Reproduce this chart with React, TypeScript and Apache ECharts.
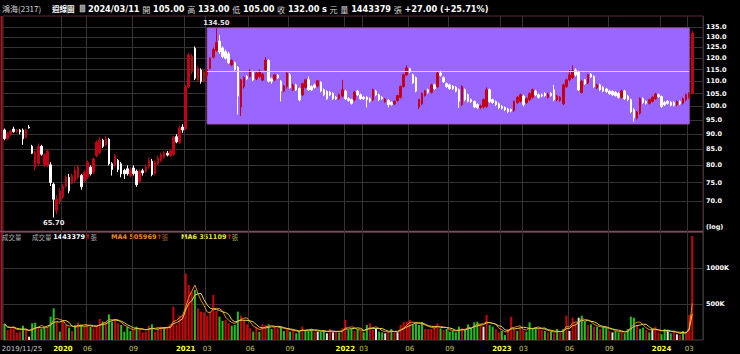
import { useEffect, useRef } from 'react';
import * as echarts from 'echarts';

// ---------------- data ----------------
const firstWeek = '2019-11-25';
const padWeeks = 3;

// [open, close, low, high] weekly
const weeklyOHLC: [number, number, number, number][] = [
  [91.5, 88.6, 88.0, 92.0], [88.6, 90.2, 88.2, 90.8], [90.2, 91.0, 89.5, 91.5], [91.8, 91.0, 90.5, 92.6], [91.0, 91.4, 90.6, 91.8],
  [91.4, 90.8, 90.0, 91.8], [91.5, 88.5, 86.5, 92.0], [89.0, 91.5, 88.5, 92.0], [92.5, 92.2, 92.0, 93.2], [86.0, 83.8, 83.5, 86.5],
  [79.5, 84.0, 78.5, 84.5], [80.5, 86.0, 80.0, 87.0], [86.0, 83.5, 83.0, 86.5], [80.2, 83.3, 79.5, 83.8], [80.0, 84.5, 79.5, 85.0],
  [80.2, 75.0, 74.0, 81.0], [74.5, 70.4, 65.7, 75.0], [67.5, 70.4, 66.5, 71.5], [69.9, 72.6, 69.0, 73.5], [71.0, 74.0, 70.5, 74.5],
  [74.0, 76.5, 73.5, 77.0], [76.5, 72.7, 72.0, 77.5], [74.8, 77.0, 74.5, 77.5], [75.5, 78.5, 75.0, 79.5], [76.5, 79.5, 76.0, 80.0],
  [77.0, 73.8, 73.0, 77.5], [75.5, 78.0, 75.0, 78.5], [76.5, 81.0, 76.0, 81.5], [79.5, 77.5, 77.0, 80.0], [78.0, 82.0, 77.5, 82.5],
  [83.0, 87.3, 82.5, 88.0], [84.0, 88.0, 83.5, 89.0], [88.0, 86.0, 85.5, 88.5], [86.5, 88.5, 86.0, 89.5], [88.3, 80.5, 80.0, 88.8],
  [80.5, 78.8, 77.0, 81.0], [80.0, 83.0, 79.5, 83.5], [81.5, 78.8, 78.0, 82.0], [80.5, 77.5, 76.5, 81.0], [78.5, 77.5, 76.0, 79.0],
  [79.0, 77.6, 77.0, 80.0], [77.0, 78.7, 76.5, 79.5], [79.2, 77.6, 77.0, 80.0], [78.3, 74.4, 73.8, 78.8], [75.3, 78.3, 74.8, 78.8],
  [78.4, 77.8, 77.0, 79.0], [78.3, 79.6, 77.8, 80.3], [79.6, 81.5, 79.0, 82.5], [81.3, 77.3, 76.8, 82.0], [77.6, 81.0, 77.0, 81.5],
  [80.5, 82.3, 80.0, 83.0], [81.5, 83.3, 81.0, 84.0], [82.5, 84.0, 82.0, 84.5], [83.8, 83.2, 82.8, 84.5], [83.0, 84.5, 82.5, 85.0],
  [83.5, 89.0, 83.0, 89.5], [89.2, 87.5, 87.0, 90.0], [87.3, 92.2, 86.8, 93.0], [92.5, 91.5, 90.5, 93.5], [92.0, 107.7, 91.5, 108.5],
  [107.7, 121.5, 107.0, 122.5], [114.0, 121.0, 113.0, 122.0], [124.5, 111.3, 110.5, 125.5], [110.5, 115.5, 110.0, 116.5], [114.8, 110.0, 109.0, 115.5],
  [110.0, 114.0, 109.5, 115.0], [112.5, 115.0, 112.0, 115.5], [115.5, 120.0, 115.0, 120.5], [120.5, 124.0, 120.0, 125.0], [123.5, 127.5, 123.0, 134.5],
  [128.0, 123.0, 122.0, 131.0], [124.8, 120.8, 120.0, 125.5], [123.0, 120.0, 119.5, 124.0], [122.0, 118.0, 117.5, 123.0], [117.0, 119.0, 116.5, 119.5],
  [118.0, 115.0, 114.5, 118.5], [116.0, 104.0, 97.0, 116.5], [99.8, 110.6, 96.5, 111.0], [107.8, 111.5, 107.0, 112.0], [112.0, 111.0, 110.5, 112.5],
  [112.0, 114.3, 111.5, 115.0], [113.8, 110.6, 110.0, 114.5], [111.0, 113.5, 110.5, 114.3], [112.0, 114.3, 111.5, 115.0], [110.5, 113.0, 110.0, 113.5],
  [114.8, 119.2, 114.0, 120.5], [119.0, 110.0, 109.5, 119.5], [111.0, 110.0, 109.0, 111.5], [110.6, 112.7, 110.0, 113.0], [112.5, 111.5, 111.0, 113.0],
  [110.0, 106.0, 101.9, 110.5], [106.0, 108.0, 105.5, 108.5], [107.8, 113.5, 107.0, 114.0], [112.7, 107.4, 107.0, 113.5], [106.5, 108.5, 106.0, 109.0],
  [108.5, 106.5, 106.0, 109.0], [107.0, 102.5, 102.0, 107.5], [104.5, 109.0, 104.0, 109.5], [107.5, 110.6, 107.0, 111.0], [110.6, 106.5, 106.0, 112.0],
  [107.8, 106.5, 106.0, 108.3], [108.5, 107.5, 107.0, 109.0], [108.0, 110.2, 107.5, 110.6], [109.5, 106.0, 105.5, 110.0], [106.5, 104.5, 104.0, 107.0],
  [105.8, 103.0, 102.5, 106.3], [105.5, 104.5, 104.0, 106.0], [105.0, 103.0, 102.5, 105.5], [103.5, 103.0, 102.5, 104.0], [103.0, 104.5, 102.5, 105.0],
  [104.0, 106.5, 103.5, 110.6], [106.0, 103.0, 102.5, 106.5], [103.0, 102.3, 101.8, 103.5], [102.6, 101.2, 100.7, 103.0], [102.6, 105.5, 102.0, 106.0],
  [106.0, 104.5, 104.0, 106.5], [104.5, 103.0, 102.5, 105.0], [103.5, 103.0, 102.5, 104.0], [103.5, 102.6, 99.6, 104.0], [103.0, 102.0, 101.5, 103.5],
  [102.6, 106.5, 102.0, 107.0], [106.0, 104.5, 104.0, 106.5], [104.5, 102.6, 102.0, 105.0], [103.5, 103.0, 102.5, 104.0], [101.9, 102.8, 101.4, 103.2],
  [102.3, 100.7, 99.6, 102.8], [101.5, 100.8, 100.3, 102.0], [101.0, 101.9, 100.5, 102.3], [102.3, 104.2, 101.8, 104.5], [103.5, 107.8, 103.0, 108.3],
  [107.8, 112.7, 107.5, 113.2], [112.7, 115.7, 112.3, 116.8], [115.3, 114.0, 113.5, 115.7], [112.7, 109.3, 109.0, 113.2], [111.5, 106.0, 105.5, 112.0],
  [99.8, 102.6, 99.0, 103.0], [101.0, 105.0, 100.5, 105.5], [104.2, 106.0, 103.8, 106.5], [106.5, 105.5, 105.0, 107.0], [105.5, 108.5, 105.0, 109.0],
  [108.5, 107.0, 106.5, 109.0], [107.8, 113.5, 107.3, 114.0], [113.5, 112.5, 112.0, 114.5], [111.5, 109.8, 109.3, 112.0], [109.0, 107.8, 107.3, 109.5],
  [108.5, 107.0, 106.5, 109.0], [108.0, 107.0, 106.5, 108.5], [107.5, 106.0, 105.5, 108.0], [106.5, 102.0, 99.5, 107.0], [100.7, 107.8, 100.2, 108.3],
  [106.5, 102.6, 102.0, 107.0], [104.5, 102.0, 101.5, 105.0], [102.6, 101.9, 101.3, 103.0], [101.9, 99.8, 99.3, 102.3], [100.7, 99.6, 99.0, 101.2],
  [99.6, 100.2, 99.0, 100.7], [99.8, 102.6, 99.3, 103.0], [100.0, 106.5, 99.5, 107.5], [106.5, 101.9, 101.3, 107.0], [102.6, 101.5, 101.0, 103.0],
  [101.9, 100.7, 100.2, 102.3], [101.0, 99.6, 99.0, 101.5], [100.0, 99.3, 98.8, 100.5], [99.6, 98.8, 98.3, 100.0], [99.0, 98.1, 97.5, 99.5],
  [98.8, 98.3, 97.8, 99.2], [98.5, 101.9, 98.0, 102.3], [101.5, 103.5, 101.0, 104.0], [102.0, 104.5, 101.5, 105.0], [104.0, 100.7, 100.0, 104.5],
  [101.5, 103.0, 101.0, 103.5], [102.6, 105.0, 102.0, 105.5], [103.5, 106.5, 103.0, 107.0], [106.0, 104.5, 104.0, 106.5], [104.5, 103.5, 103.0, 105.0],
  [104.5, 104.0, 103.5, 105.0], [105.0, 104.2, 103.8, 105.5], [103.5, 104.8, 103.0, 105.3], [105.0, 104.2, 103.8, 105.5], [106.5, 102.6, 102.0, 108.5],
  [102.6, 104.0, 102.0, 104.5], [102.3, 103.5, 101.8, 104.0], [101.0, 108.5, 100.5, 109.0], [107.8, 110.6, 107.3, 111.0], [110.6, 112.7, 110.0, 114.8],
  [111.5, 114.5, 111.0, 116.8], [114.8, 112.7, 112.0, 115.5], [114.0, 106.5, 106.0, 114.5], [105.5, 110.0, 105.0, 110.5], [110.6, 109.0, 108.5, 111.0],
  [109.3, 112.7, 108.8, 113.2], [113.0, 111.8, 111.3, 113.5], [112.0, 107.8, 107.3, 112.5], [107.3, 108.5, 106.8, 109.0], [108.5, 106.5, 106.0, 109.0],
  [107.5, 106.0, 105.5, 108.0], [106.8, 105.8, 105.3, 107.3], [106.0, 105.0, 104.5, 106.5], [105.8, 104.5, 104.0, 106.3], [105.5, 104.2, 103.8, 106.0],
  [105.0, 103.5, 103.0, 105.5], [103.5, 106.0, 103.0, 106.5], [106.0, 103.0, 102.5, 106.5], [104.0, 102.6, 102.0, 104.5], [102.6, 98.0, 97.5, 103.0],
  [98.8, 95.8, 94.4, 99.3], [95.7, 97.9, 95.2, 98.3], [97.5, 103.0, 97.0, 103.5], [103.0, 101.5, 101.0, 103.5], [101.9, 101.2, 100.7, 102.3],
  [101.2, 102.6, 100.7, 103.0], [102.0, 103.5, 101.5, 104.0], [103.0, 104.8, 102.5, 105.3], [104.5, 103.8, 103.3, 105.0], [103.8, 100.0, 99.5, 104.2],
  [101.5, 100.7, 100.2, 102.0], [102.0, 101.2, 100.7, 102.5], [101.5, 100.5, 100.0, 102.0], [101.5, 100.5, 100.0, 102.0], [100.7, 101.9, 100.2, 102.3],
  [101.9, 101.0, 100.5, 102.3], [101.2, 103.0, 100.7, 103.5], [102.6, 104.5, 102.0, 105.0], [103.5, 105.0, 103.0, 105.5], [105.0, 132.0, 105.0, 133.0],
];

// weekly volume, thousands of 張
const weeklyVolumeK: number[] = [
  222, 139, 162, 185, 102, 116, 199, 153, 46, 232,
  241, 185, 153, 171, 185, 324, 440, 255, 116, 278,
  208, 171, 125, 208, 245, 218, 185, 199, 185, 162,
  208, 292, 255, 245, 356, 255, 278, 232, 208, 116,
  185, 125, 153, 185, 162, 106, 116, 199, 218, 116,
  153, 185, 171, 185, 218, 463, 218, 338, 347, 926,
  764, 671, 694, 440, 394, 384, 338, 394, 625, 403,
  324, 264, 278, 232, 199, 208, 394, 338, 278, 218,
  162, 116, 185, 116, 218, 208, 218, 153, 185, 162,
  185, 125, 153, 116, 139, 93, 125, 185, 139, 125,
  153, 116, 116, 116, 139, 93, 153, 106, 116, 106,
  162, 278, 139, 153, 125, 153, 125, 106, 208, 232,
  139, 153, 116, 106, 93, 125, 153, 106, 106, 208,
  245, 255, 278, 208, 232, 208, 245, 153, 153, 153,
  199, 232, 162, 139, 153, 116, 125, 106, 185, 162,
  139, 218, 162, 245, 255, 218, 185, 347, 208, 185,
  153, 106, 125, 69, 153, 324, 153, 125, 185, 125,
  116, 245, 153, 171, 162, 139, 125, 106, 116, 93,
  153, 106, 153, 338, 125, 310, 232, 310, 338, 255,
  208, 218, 185, 185, 153, 185, 171, 125, 106, 125,
  106, 125, 93, 153, 324, 310, 208, 153, 171, 139,
  106, 153, 185, 106, 79, 153, 139, 93, 116, 79,
  69, 125, 116, 347, 1443.379,
];

// r = red, g = green, w = white volume bar
const volumeTone: string[] = [
  'g', 'r', 'r', 'r', 'r', 'r', 'g', 'r', 'w', 'g',
  'g', 'r', 'g', 'g', 'r', 'g', 'g', 'r', 'g', 'r',
  'r', 'g', 'r', 'g', 'r', 'g', 'r', 'r', 'g', 'r',
  'r', 'r', 'g', 'r', 'g', 'g', 'r', 'r', 'g', 'g',
  'g', 'g', 'r', 'g', 'r', 'r', 'r', 'r', 'g', 'r',
  'r', 'r', 'g', 'r', 'r', 'r', 'r', 'r', 'r', 'r',
  'r', 'r', 'g', 'r', 'r', 'r', 'r', 'r', 'r', 'r',
  'g', 'g', 'r', 'r', 'g', 'g', 'g', 'r', 'r', 'r',
  'r', 'g', 'r', 'g', 'r', 'r', 'g', 'g', 'r', 'r',
  'g', 'g', 'r', 'g', 'r', 'g', 'g', 'r', 'g', 'g',
  'g', 'r', 'w', 'g', 'g', 'w', 'r', 'w', 'r', 'g',
  'r', 'r', 'g', 'g', 'r', 'g', 'r', 'g', 'g', 'r',
  'r', 'w', 'g', 'g', 'w', 'r', 'g', 'r', 'w', 'r',
  'r', 'r', 'r', 'g', 'g', 'g', 'g', 'r', 'r', 'r',
  'r', 'r', 'g', 'r', 'g', 'g', 'g', 'g', 'g', 'r',
  'g', 'g', 'g', 'g', 'g', 'r', 'w', 'r', 'g', 'g',
  'r', 'r', 'g', 'g', 'r', 'r', 'r', 'g', 'r', 'r',
  'g', 'g', 'g', 'g', 'r', 'r', 'g', 'r', 'g', 'r',
  'g', 'r', 'g', 'r', 'w', 'r', 'r', 'w', 'g', 'g',
  'r', 'g', 'r', 'g', 'r', 'g', 'g', 'r', 'w', 'g',
  'g', 'r', 'g', 'g', 'g', 'g', 'r', 'g', 'g', 'r',
  'g', 'w', 'r', 'r', 'g', 'g', 'w', 'g', 'r', 'w',
  'r', 'g', 'r', 'r', 'r',
];

const priceTicks = [70, 75, 80, 85, 90, 95, 100, 105, 110, 115, 120, 125, 130, 135];
const priceAxisRange = [62.2, 140.8];
const volumeTicksK = [500, 1000];
const volumeAxisMaxK = 1500;

const xAxisMarks = [
  { week: '2019-11-25', text: '2019/11/25', kind: 'first' },
  { week: '2020-04-06', text: '2020', kind: 'year' },
  { week: '2020-06-01', text: '06', kind: 'month' },
  { week: '2020-09-14', text: '09', kind: 'month' },
  { week: '2021-01-11', text: '2021', kind: 'year' },
  { week: '2021-03-01', text: '03', kind: 'month' },
  { week: '2021-06-07', text: '06', kind: 'month' },
  { week: '2021-09-06', text: '09', kind: 'month' },
  { week: '2022-01-10', text: '2022', kind: 'year' },
  { week: '2022-02-21', text: '03', kind: 'month' },
  { week: '2022-06-06', text: '06', kind: 'month' },
  { week: '2022-09-05', text: '09', kind: 'month' },
  { week: '2023-01-02', text: '2023', kind: 'year' },
  { week: '2023-02-20', text: '03', kind: 'month' },
  { week: '2023-06-05', text: '06', kind: 'month' },
  { week: '2023-09-04', text: '09', kind: 'month' },
  { week: '2024-01-01', text: '2024', kind: 'year' },
  { week: '2024-03-04', text: '03', kind: 'month' },
];

const boxRange = { fromWeek: '2021-03-01', toWeek: '2024-03-04', high: 134.5, low: 93.6 };

const headerName = '鴻海(2317)';
const headerKind = '週線圖';
const headerQuote = [
  ['d', '2024/03/11'], ['l', '開'], ['d', '105.00'], ['l', '高'], ['d', '133.00'], ['l', '低'], ['d', '105.00'],
  ['l', '收'], ['d', '132.00'], ['d', 's'], ['l', '元'], ['l', '量'], ['d', '1443379'], ['l', '張'], ['d', '+27.00 (+25.71%)'],
];
const volumeLegend = { total: '1443379', ma4: '505969', ma6: '351109' };

// ---------------- helpers ----------------
function weekString(start: string, i: number) {
  const t = Date.parse(start + 'T00:00:00Z') + i * 7 * 86400000;
  return new Date(t).toISOString().slice(0, 10);
}

function movingAverage(values: number[], n: number) {
  return values.map((_, i) => {
    const from = Math.max(0, i - n + 1);
    const part = values.slice(from, i + 1);
    return part.reduce((a, b) => a + b, 0) / part.length;
  });
}

const TONE: Record<string, string> = { r: '#d10000', g: '#1fc21f', w: '#e6e6e6' };
const GRID_LINE = '#343434';

function buildOption() {
  const n = weeklyOHLC.length;
  const categories = Array.from({ length: n + padWeeks }, (_, i) => weekString(firstWeek, i));
  const labelAt = new Map<number, { text: string; kind: string }>();
  xAxisMarks.forEach((m) => {
    const idx = categories.indexOf(m.week);
    if (idx >= 0) labelAt.set(idx, { text: m.text, kind: m.kind });
  });
  const gridAt = new Set<number>();
  labelAt.forEach((v, k) => { if (v.kind !== 'first') gridAt.add(k); });

  const logPrices = weeklyOHLC.map((r) => r.map((v) => Math.log(v)));
  let hiIdx = 0, loIdx = 0;
  weeklyOHLC.forEach((r, i) => {
    if (r[3] > weeklyOHLC[hiIdx][3]) hiIdx = i;
    if (r[2] < weeklyOHLC[loIdx][2]) loIdx = i;
  });
  const hi = weeklyOHLC[hiIdx][3];
  const lo = weeklyOHLC[loIdx][2];
  const mid = (boxRange.high + boxRange.low) / 2;

  const ma4 = movingAverage(weeklyVolumeK, 4);
  const ma6 = movingAverage(weeklyVolumeK, 6);

  const xSplit = {
    show: true,
    interval: (i: number) => gridAt.has(i),
    lineStyle: { color: GRID_LINE, width: 1 },
  };

  const axisFont = { fontFamily: 'DejaVu Sans', fontSize: 6.5, fontWeight: 'bold' as const, color: '#ffffff' };

  const richHeader: Record<string, any> = {
    d: { fill: '#ffffff', color: '#ffffff', fontFamily: 'DejaVu Sans', fontWeight: 'bold', fontSize: 8.2 },
    l: { fill: '#d4d4d4', color: '#d4d4d4', fontFamily: 'Noto Sans CJK TC', fontSize: 8.2 },
  };
  const headerText = headerQuote.map(([k, t]) => `{${k}|${t}}`).join(' ');

  const legendRich: Record<string, any> = {
    g: { fill: '#b0b0b0', fontFamily: 'Noto Sans CJK TC', fontSize: 6.5 },
    w: { fill: '#ffffff', fontFamily: 'DejaVu Sans', fontWeight: 'bold', fontSize: 6.5 },
    o: { fill: '#f0861e', fontFamily: 'DejaVu Sans', fontWeight: 'bold', fontSize: 6.5 },
    y: { fill: '#e8e832', fontFamily: 'DejaVu Sans', fontWeight: 'bold', fontSize: 6.5 },
    a: { fill: '#ff2020', fontFamily: 'DejaVu Sans', fontWeight: 'bold', fontSize: 6.5 },
    ob: { fill: '#a8642c', fontFamily: 'Noto Sans CJK TC', fontSize: 6.5 },
    yb: { fill: '#a8a840', fontFamily: 'Noto Sans CJK TC', fontSize: 6.5 },
  };

  return {
    animation: false,
    backgroundColor: '#000000',
    grid: [
      { left: 3, right: 37, top: 16, height: 216, show: true, borderColor: '#5a2838', borderWidth: 1, containLabel: false, outerBoundsMode: 'none' },
      { left: 3, right: 37, top: 232, height: 108, show: true, borderColor: '#4a4046', borderWidth: 1, containLabel: false, outerBoundsMode: 'none' },
    ],
    xAxis: [
      {
        type: 'category', gridIndex: 0, data: categories, boundaryGap: true,
        axisLine: { show: false }, axisTick: { show: false }, axisLabel: { show: false },
        splitLine: xSplit,
      },
      {
        type: 'category', gridIndex: 1, data: categories, boundaryGap: true,
        axisLine: { show: false }, axisTick: { show: false },
        axisLabel: {
          show: true,
          interval: (i: number) => labelAt.has(i),
          margin: 5,
          fontFamily: 'DejaVu Sans',
          fontSize: 7,
          formatter: (_v: string, i: number) => {
            const m = labelAt.get(i);
            return m ? `{${m.kind}|${m.text}}` : '';
          },
          rich: {
            first: { color: '#c8c8c8', fontFamily: 'DejaVu Sans', fontSize: 7, padding: [0, 0, 0, 35] },
            year: { color: '#ffff3c', fontFamily: 'DejaVu Sans', fontSize: 7, fontWeight: 'bold' },
            month: { color: '#c8c85a', fontFamily: 'DejaVu Sans', fontSize: 7 },
          },
        },
        splitLine: xSplit,
      },
    ],
    yAxis: [
      {
        type: 'value', gridIndex: 0, position: 'right',
        min: Math.log(priceAxisRange[0]), max: Math.log(priceAxisRange[1]),
        axisLine: { show: false },
        axisTick: { show: false, customValues: priceTicks.map((v) => Math.log(v)) },
        axisLabel: {
          ...axisFont, margin: 3,
          customValues: priceTicks.map((v) => Math.log(v)),
          formatter: (v: number) => Math.exp(v).toFixed(1),
        },
        splitLine: { show: true, lineStyle: { color: GRID_LINE, width: 1 } },
      },
      {
        type: 'value', gridIndex: 1, position: 'right', min: 0, max: volumeAxisMaxK,
        axisLine: { show: false },
        axisTick: { show: false, customValues: volumeTicksK },
        axisLabel: { ...axisFont, margin: 3, customValues: volumeTicksK, formatter: (v: number) => `${v}K` },
        splitLine: { show: true, lineStyle: { color: GRID_LINE, width: 1 } },
      },
    ],
    series: [
      {
        type: 'candlestick', xAxisIndex: 0, yAxisIndex: 0, data: logPrices, barWidth: 2, silent: true, z: 3,
        itemStyle: { color: '#c40016', color0: '#ffffff', borderColor: '#c40016', borderColor0: '#ffffff', borderWidth: 1 },
        markArea: {
          silent: true,
          itemStyle: { color: '#9966ff', opacity: 1, borderColor: '#b356c8', borderWidth: 1 },
          data: [[
            { xAxis: boxRange.fromWeek, yAxis: Math.log(boxRange.high) },
            { xAxis: boxRange.toWeek, yAxis: Math.log(boxRange.low) },
          ]],
        },
        markLine: {
          silent: true, symbol: ['none', 'none'], label: { show: false },
          lineStyle: { color: '#f0c4f0', width: 1, type: 'solid', opacity: 1 },
          data: [[
            { coord: [boxRange.fromWeek, Math.log(mid)] },
            { coord: [boxRange.toWeek, Math.log(mid)] },
          ]],
        },
        markPoint: {
          silent: true, symbol: 'circle', symbolSize: 1,
          itemStyle: { color: 'rgba(0,0,0,0)' },
          label: { show: true, color: '#e8e8e8', fontFamily: 'DejaVu Sans', fontWeight: 'bold', fontSize: 6.8, formatter: (p: any) => p.value },
          data: [
            { coord: [hiIdx, Math.log(hi)], value: hi.toFixed(2), label: { position: 'top', distance: 1 } },
            { coord: [loIdx, Math.log(lo)], value: lo.toFixed(2), label: { position: 'bottom', distance: 1 } },
          ],
        },
      },
      {
        type: 'bar', xAxisIndex: 1, yAxisIndex: 1, barWidth: 2, silent: true,
        data: weeklyVolumeK.map((v, i) => ({ value: v, itemStyle: { color: TONE[volumeTone[i]] } })),
      },
      {
        type: 'line', xAxisIndex: 1, yAxisIndex: 1, data: ma4, showSymbol: false, silent: true,
        lineStyle: { color: '#f0861e', width: 1 },
      },
      {
        type: 'line', xAxisIndex: 1, yAxisIndex: 1, data: ma6, showSymbol: false, silent: true,
        lineStyle: { color: '#d8d850', width: 1 },
      },
    ],
    graphic: [
      { type: 'line', shape: { x1: 1.5, y1: 16, x2: 1.5, y2: 340 }, style: { stroke: '#9e1b26', lineWidth: 2 }, silent: true },
      { type: 'line', shape: { x1: 0, y1: 231.5, x2: 703, y2: 231.5 }, style: { stroke: '#8a4660', lineWidth: 1.5 }, silent: true },
      { type: 'text', x: 2, y: 8.5, silent: true, style: { text: headerName, fill: '#d8d8d8', fontFamily: 'Noto Sans CJK TC', fontSize: 8, verticalAlign: 'middle' } },
      { type: 'text', x: 52, y: 8.5, silent: true, style: { text: headerKind, fill: '#ffffff', fontFamily: 'Noto Sans CJK TC', fontWeight: 'bold', fontSize: 7.5, verticalAlign: 'middle' } },
      { type: 'rect', shape: { x: 80, y: 5, width: 5, height: 7 }, style: { fill: '#8c8c8c', stroke: '#cfcfcf', lineWidth: 0.5 }, silent: true },
      { type: 'text', x: 88, y: 8.5, silent: true, style: { text: headerText, rich: richHeader, fill: '#ffffff', fontFamily: 'DejaVu Sans', fontSize: 8.2, verticalAlign: 'middle' } },
      { type: 'text', x: 2, y: 237, silent: true, style: { text: '{g|成交量}', rich: legendRich, fontSize: 6.5, verticalAlign: 'middle' } },
      { type: 'text', x: 32, y: 237, silent: true, style: { text: `{g|成交量} {w|${volumeLegend.total}}{a|↑}{g|張}`, rich: legendRich, fontSize: 6.5, verticalAlign: 'middle' } },
      { type: 'text', x: 111, y: 237, silent: true, style: { text: `{o|MA4 ${volumeLegend.ma4}}{a|↑}{ob|張}`, rich: legendRich, fontSize: 6.5, verticalAlign: 'middle' } },
      { type: 'text', x: 181, y: 237, silent: true, style: { text: `{y|MA6 ${volumeLegend.ma6}}{a|↑}{yb|張}`, rich: legendRich, fontSize: 6.5, verticalAlign: 'middle' } },
      { type: 'text', x: 706, y: 227, silent: true, style: { text: '(log)', fill: '#ffffff', fontFamily: 'DejaVu Sans', fontWeight: 'bold', fontSize: 6.5, verticalAlign: 'middle' } },
    ],
  };
}

export default function App() {
  const ref = useRef<HTMLDivElement>(null);
  useEffect(() => {
    document.body.style.margin = '0';
    document.body.style.background = '#000000';
    const chart = echarts.init(ref.current as HTMLDivElement, null, { renderer: 'svg' });
    chart.setOption(buildOption() as any);
    return () => chart.dispose();
  }, []);
  return <div ref={ref} style={{ width: 740, height: 354, background: '#000000' }} />;
}
